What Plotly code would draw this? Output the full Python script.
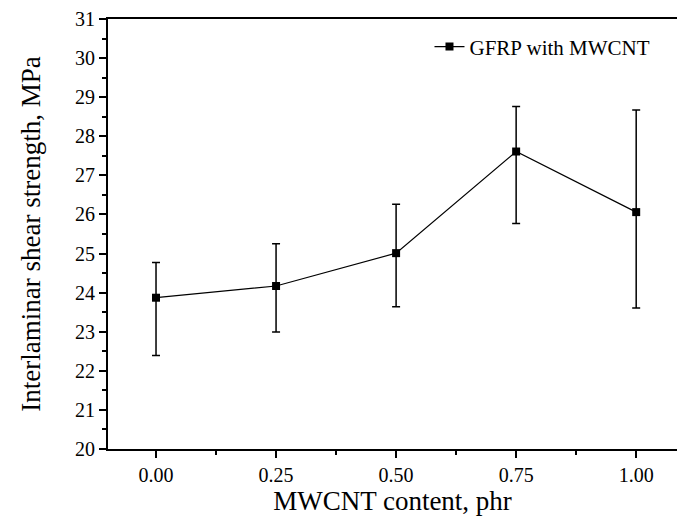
import plotly.graph_objects as go

x_vals = [0.00, 0.25, 0.50, 0.75, 1.00]
y_vals = [23.87, 24.17, 25.01, 27.61, 26.06]
err_plus = [0.90, 1.08, 1.25, 1.15, 2.61]
err_minus = [1.48, 1.18, 1.37, 1.84, 2.45]
x_ticks = [0.00, 0.25, 0.50, 0.75, 1.00]
x_tick_labels = ["0.00", "0.25", "0.50", "0.75", "1.00"]
series_name = "GFRP with MWCNT"

FONT = "Liberation Serif"

fig = go.Figure()
fig.add_trace(go.Scatter(
    x=x_vals, y=y_vals, mode="lines+markers", name=series_name,
    line=dict(color="black", width=1.2),
    marker=dict(symbol="square", size=8, color="black"),
    error_y=dict(type="data", symmetric=False, array=err_plus, arrayminus=err_minus,
                 color="black", thickness=1.5, width=4),
))

fig.update_layout(
    width=677, height=518,
    margin=dict(l=108, r=0, t=19, b=69),
    paper_bgcolor="white", plot_bgcolor="white",
    font=dict(family=FONT, color="black"),
    showlegend=True,
    legend=dict(x=0.565, y=0.935, xanchor="left", yanchor="middle",
                font=dict(family=FONT, size=21, color="black"),
                bgcolor="rgba(0,0,0,0)"),
)
fig.update_xaxes(
    range=[-0.1, 1.085], tickvals=x_ticks, ticktext=x_tick_labels,
    showgrid=False, zeroline=False,
    showline=True, linecolor="black", linewidth=2, mirror=True,
    ticks="outside", ticklen=7, tickwidth=1.5, tickcolor="black",
    minor=dict(dtick=0.125, tick0=0, ticks="outside", ticklen=4, tickwidth=1.5, tickcolor="black"),
    tickfont=dict(family=FONT, size=20, color="black"),
    title=dict(text="MWCNT content, phr", font=dict(family=FONT, size=27, color="black"), standoff=3),
)
fig.update_yaxes(
    range=[20, 31], dtick=1, tick0=20,
    showgrid=False, zeroline=False,
    showline=True, linecolor="black", linewidth=2,
    ticks="outside", ticklen=7, tickwidth=1.5, tickcolor="black",
    minor=dict(dtick=0.5, tick0=20, ticks="outside", ticklen=4, tickwidth=1.5, tickcolor="black"),
    tickfont=dict(family=FONT, size=20, color="black"),
    title=dict(text="Interlaminar shear strength, MPa", font=dict(family=FONT, size=27, color="black"), standoff=27),
)

fig.write_html("out.html", config={"displayModeBar": False},
               post_script="document.body.style.margin='0px';document.body.style.overflow='hidden';")
